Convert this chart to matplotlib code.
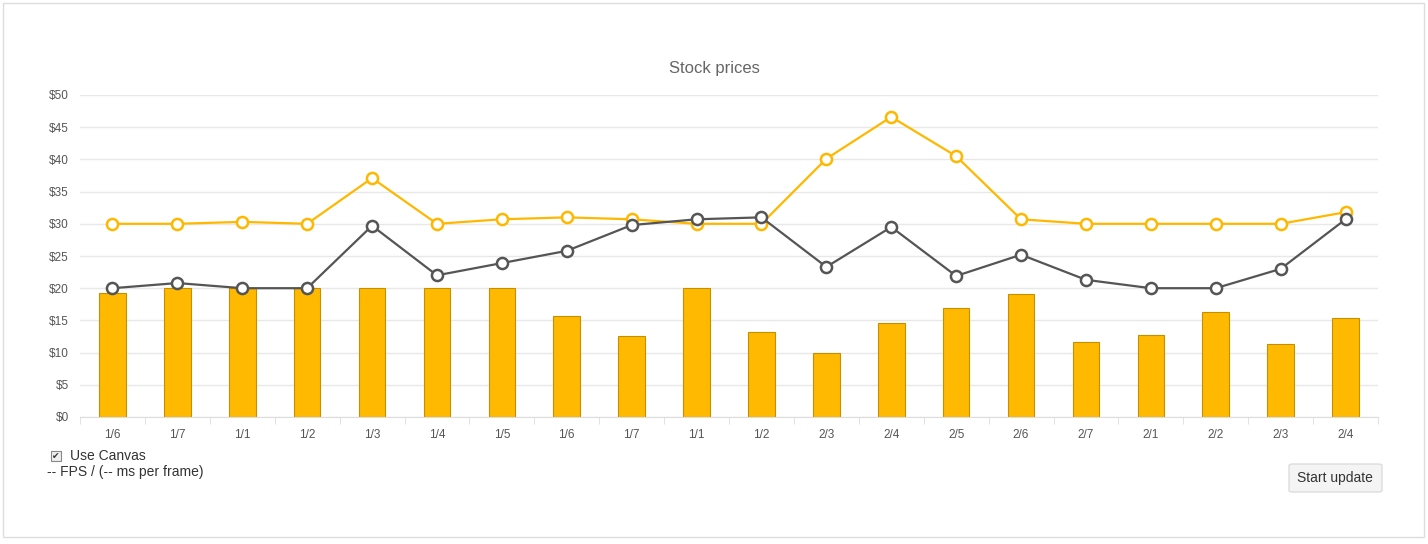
import matplotlib.pyplot as plt
from matplotlib.patches import Rectangle, FancyBboxPatch
import numpy as np

plt.rcParams['font.family'] = ['Liberation Sans', 'DejaVu Sans']

labels = ['1/6', '1/7', '1/1', '1/2', '1/3', '1/4', '1/5', '1/6', '1/7', '1/1',
          '1/2', '2/3', '2/4', '2/5', '2/6', '2/7', '2/1', '2/2', '2/3', '2/4']
bar_values = [19.3, 20, 20, 20, 20, 20, 20, 15.7, 12.6, 20,
              13.2, 9.9, 14.6, 16.9, 19.1, 11.6, 12.7, 16.3, 11.3, 15.4]
orange_line = [30, 30, 30.3, 30, 37.1, 30, 30.7, 31.0, 30.7, 30,
               30, 40.1, 46.6, 40.5, 30.7, 30, 30, 30, 30, 31.8]
dark_line = [20, 20.8, 20, 20, 29.7, 22.0, 23.9, 25.8, 29.8, 30.7,
             31.0, 23.3, 29.5, 21.9, 25.2, 21.3, 20, 20, 23.0, 30.7]
y_ticks = [0, 5, 10, 15, 20, 25, 30, 35, 40, 45, 50]

W, H = 1428, 544
fig = plt.figure(figsize=(W / 100, H / 100), dpi=100)
fig.patch.set_facecolor('white')

# outer card border (behind the axes)
fig.patches.append(Rectangle((3 / W, 1 - 537 / H), 1421 / W, 534 / H, transform=fig.transFigure,
                             facecolor='none', edgecolor='#dddddd', lw=1, zorder=-1))

ax = fig.add_axes([80 / W, 1 - 417 / H, 1298 / W, 322 / H])
ax.patch.set_alpha(0)
x = np.arange(len(labels))

ax.bar(x, bar_values, width=0.41, color='#FFB900', edgecolor='#C49000', lw=0.8, zorder=2)
ax.plot(x, orange_line, color='#FFB800', lw=1.6, marker='o', ms=8, mfc='white',
        mec='#FFB800', mew=1.8, zorder=3)
ax.plot(x, dark_line, color='#555555', lw=1.6, marker='o', ms=8, mfc='white',
        mec='#555555', mew=1.8, zorder=4)

ax.set_xlim(-0.5, len(labels) - 0.5)
ax.set_ylim(0, 50)
ax.set_yticks(y_ticks)
ax.set_yticklabels([f'${v}' for v in y_ticks])
ax.set_xticks(x)
ax.set_xticklabels(labels)
ax.set_xticks(np.arange(-0.5, len(labels)), minor=True)
ax.tick_params(axis='x', which='major', length=0, pad=9, labelsize=8.5, labelcolor='#555555')
ax.tick_params(axis='x', which='minor', length=5, color='#dddddd')
ax.tick_params(axis='y', length=0, pad=8, labelsize=8.5, labelcolor='#555555')
ax.grid(axis='y', color='#e8e8e8', lw=1, zorder=0)
for s in ['top', 'right', 'left']:
    ax.spines[s].set_visible(False)
ax.spines['bottom'].set_color('#dddddd')
ax.set_axisbelow(True)

fig.text(714 / W, 1 - 69 / H, 'Stock prices', ha='center', va='center', fontsize=12, color='#666666')

# controls below chart
fig.patches.append(Rectangle((51 / W, 1 - 461 / H), 10 / W, 10 / H, transform=fig.transFigure,
                             facecolor='#eeeeee', edgecolor='#888888', lw=0.8))
fig.text(56 / W, 1 - 456 / H, '✔', ha='center', va='center', fontsize=6.5, color='#333333',
         family='DejaVu Sans')
fig.text(70 / W, 1 - 456 / H, 'Use Canvas', ha='left', va='center', fontsize=10, color='#333333')
fig.text(47 / W, 1 - 472 / H, '-- FPS / (-- ms per frame)', ha='left', va='center', fontsize=10, color='#333333')

fig.patches.append(FancyBboxPatch((1289 / W, 1 - 492 / H), 93 / W, 28 / H, transform=fig.transFigure,
                                  boxstyle='round,pad=0,rounding_size=0.003',
                                  facecolor='#f4f4f4', edgecolor='#dddddd', lw=1))
fig.text(1335 / W, 1 - 478 / H, 'Start update', ha='center', va='center', fontsize=10, color='#333333')

fig.savefig('out.png', dpi=100, facecolor='white')
